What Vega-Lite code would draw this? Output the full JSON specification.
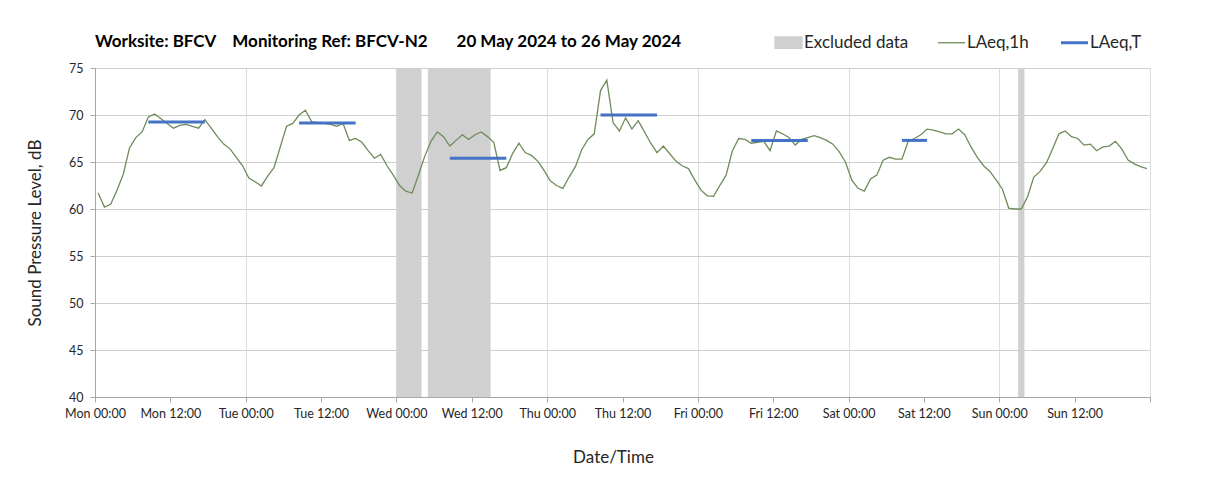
{
  "$schema": "https://vega.github.io/schema/vega-lite/v6.json",
  "width": 1055,
  "height": 329,
  "autosize": {"type": "none"},
  "padding": {"left": 95, "top": 68, "right": 58, "bottom": 93},
  "background": "white",
  "title": {
    "text": "Worksite: BFCV\u00a0\u00a0\u00a0 Monitoring Ref: BFCV-N2\u00a0\u00a0\u00a0\u00a0\u00a0\u00a0 20 May 2024 to 26 May 2024",
    "anchor": "start",
    "frame": "group",
    "offset": -17,
    "font": "Lato",
    "fontSize": 17,
    "fontWeight": "bold",
    "color": "#000000"
  },
  "config": {
    "font": "Lato",
    "view": {"stroke": "#bfbfbf"},
    "axis": {
      "labelFont": "Lato",
      "labelFontSize": 12.5,
      "labelColor": "#262626",
      "titleFont": "Lato",
      "titleFontSize": 17,
      "titleFontWeight": "normal",
      "titleColor": "#262626",
      "domainColor": "#a6a6a6",
      "tickColor": "#a6a6a6",
      "gridColor": "#d4d4d4",
      "tickSize": 5
    }
  },
  "datasets": {
    "excluded": [
      {"start": "2024-05-22T00:00", "end": "2024-05-22T04:00"},
      {"start": "2024-05-22T05:00", "end": "2024-05-22T15:00"},
      {"start": "2024-05-26T03:00", "end": "2024-05-26T04:00"}
    ],
    "period": [
      {"start": "2024-05-20T08:30", "end": "2024-05-20T17:30", "v": 69.25},
      {"start": "2024-05-21T08:30", "end": "2024-05-21T17:30", "v": 69.15},
      {"start": "2024-05-22T08:30", "end": "2024-05-22T17:30", "v": 65.4},
      {"start": "2024-05-23T08:30", "end": "2024-05-23T17:30", "v": 70.0},
      {"start": "2024-05-24T08:30", "end": "2024-05-24T17:30", "v": 67.3},
      {"start": "2024-05-25T08:30", "end": "2024-05-25T12:30", "v": 67.3}
    ],
    "hourly": [
      {"t": "2024-05-20T00:30", "v": 61.7}, {"t": "2024-05-20T01:30", "v": 60.2}, {"t": "2024-05-20T02:30", "v": 60.5}, {"t": "2024-05-20T03:30", "v": 62.0},
      {"t": "2024-05-20T04:30", "v": 63.7}, {"t": "2024-05-20T05:30", "v": 66.5}, {"t": "2024-05-20T06:30", "v": 67.6}, {"t": "2024-05-20T07:30", "v": 68.2},
      {"t": "2024-05-20T08:30", "v": 69.8}, {"t": "2024-05-20T09:30", "v": 70.1}, {"t": "2024-05-20T10:30", "v": 69.6}, {"t": "2024-05-20T11:30", "v": 69.1},
      {"t": "2024-05-20T12:30", "v": 68.6}, {"t": "2024-05-20T13:30", "v": 68.9}, {"t": "2024-05-20T14:30", "v": 69.0}, {"t": "2024-05-20T15:30", "v": 68.8},
      {"t": "2024-05-20T16:30", "v": 68.6}, {"t": "2024-05-20T17:30", "v": 69.5}, {"t": "2024-05-20T18:30", "v": 68.6}, {"t": "2024-05-20T19:30", "v": 67.7},
      {"t": "2024-05-20T20:30", "v": 66.9}, {"t": "2024-05-20T21:30", "v": 66.4}, {"t": "2024-05-20T22:30", "v": 65.5}, {"t": "2024-05-20T23:30", "v": 64.6},
      {"t": "2024-05-21T00:30", "v": 63.3}, {"t": "2024-05-21T01:30", "v": 62.9}, {"t": "2024-05-21T02:30", "v": 62.45}, {"t": "2024-05-21T03:30", "v": 63.5},
      {"t": "2024-05-21T04:30", "v": 64.4}, {"t": "2024-05-21T05:30", "v": 66.6}, {"t": "2024-05-21T06:30", "v": 68.8}, {"t": "2024-05-21T07:30", "v": 69.1},
      {"t": "2024-05-21T08:30", "v": 70.0}, {"t": "2024-05-21T09:30", "v": 70.5}, {"t": "2024-05-21T10:30", "v": 69.3}, {"t": "2024-05-21T11:30", "v": 69.2},
      {"t": "2024-05-21T12:30", "v": 69.1}, {"t": "2024-05-21T13:30", "v": 69.0}, {"t": "2024-05-21T14:30", "v": 68.8}, {"t": "2024-05-21T15:30", "v": 69.1},
      {"t": "2024-05-21T16:30", "v": 67.3}, {"t": "2024-05-21T17:30", "v": 67.5}, {"t": "2024-05-21T18:30", "v": 67.1}, {"t": "2024-05-21T19:30", "v": 66.2},
      {"t": "2024-05-21T20:30", "v": 65.4}, {"t": "2024-05-21T21:30", "v": 65.8}, {"t": "2024-05-21T22:30", "v": 64.6}, {"t": "2024-05-21T23:30", "v": 63.6},
      {"t": "2024-05-22T00:30", "v": 62.5}, {"t": "2024-05-22T01:30", "v": 61.9}, {"t": "2024-05-22T02:30", "v": 61.7}, {"t": "2024-05-22T03:30", "v": 63.6},
      {"t": "2024-05-22T04:30", "v": 65.6}, {"t": "2024-05-22T05:30", "v": 67.2}, {"t": "2024-05-22T06:30", "v": 68.2}, {"t": "2024-05-22T07:30", "v": 67.7},
      {"t": "2024-05-22T08:30", "v": 66.7}, {"t": "2024-05-22T09:30", "v": 67.3}, {"t": "2024-05-22T10:30", "v": 67.9}, {"t": "2024-05-22T11:30", "v": 67.4},
      {"t": "2024-05-22T12:30", "v": 67.9}, {"t": "2024-05-22T13:30", "v": 68.2}, {"t": "2024-05-22T14:30", "v": 67.7}, {"t": "2024-05-22T15:30", "v": 67.1},
      {"t": "2024-05-22T16:30", "v": 64.1}, {"t": "2024-05-22T17:30", "v": 64.4}, {"t": "2024-05-22T18:30", "v": 65.9}, {"t": "2024-05-22T19:30", "v": 67.0},
      {"t": "2024-05-22T20:30", "v": 66.0}, {"t": "2024-05-22T21:30", "v": 65.7}, {"t": "2024-05-22T22:30", "v": 65.1}, {"t": "2024-05-22T23:30", "v": 64.1},
      {"t": "2024-05-23T00:30", "v": 63.0}, {"t": "2024-05-23T01:30", "v": 62.5}, {"t": "2024-05-23T02:30", "v": 62.2}, {"t": "2024-05-23T03:30", "v": 63.4},
      {"t": "2024-05-23T04:30", "v": 64.5}, {"t": "2024-05-23T05:30", "v": 66.3}, {"t": "2024-05-23T06:30", "v": 67.4}, {"t": "2024-05-23T07:30", "v": 68.0},
      {"t": "2024-05-23T08:30", "v": 72.6}, {"t": "2024-05-23T09:30", "v": 73.7}, {"t": "2024-05-23T10:30", "v": 69.2}, {"t": "2024-05-23T11:30", "v": 68.3},
      {"t": "2024-05-23T12:30", "v": 69.7}, {"t": "2024-05-23T13:30", "v": 68.5}, {"t": "2024-05-23T14:30", "v": 69.4}, {"t": "2024-05-23T15:30", "v": 68.2},
      {"t": "2024-05-23T16:30", "v": 67.0}, {"t": "2024-05-23T17:30", "v": 66.0}, {"t": "2024-05-23T18:30", "v": 66.7}, {"t": "2024-05-23T19:30", "v": 65.9},
      {"t": "2024-05-23T20:30", "v": 65.1}, {"t": "2024-05-23T21:30", "v": 64.6}, {"t": "2024-05-23T22:30", "v": 64.3}, {"t": "2024-05-23T23:30", "v": 63.1},
      {"t": "2024-05-24T00:30", "v": 62.0}, {"t": "2024-05-24T01:30", "v": 61.4}, {"t": "2024-05-24T02:30", "v": 61.35}, {"t": "2024-05-24T03:30", "v": 62.5},
      {"t": "2024-05-24T04:30", "v": 63.6}, {"t": "2024-05-24T05:30", "v": 66.2}, {"t": "2024-05-24T06:30", "v": 67.5}, {"t": "2024-05-24T07:30", "v": 67.4},
      {"t": "2024-05-24T08:30", "v": 67.0}, {"t": "2024-05-24T09:30", "v": 67.1}, {"t": "2024-05-24T10:30", "v": 67.2}, {"t": "2024-05-24T11:30", "v": 66.2},
      {"t": "2024-05-24T12:30", "v": 68.3}, {"t": "2024-05-24T13:30", "v": 68.0}, {"t": "2024-05-24T14:30", "v": 67.6}, {"t": "2024-05-24T15:30", "v": 66.8},
      {"t": "2024-05-24T16:30", "v": 67.4}, {"t": "2024-05-24T17:30", "v": 67.6}, {"t": "2024-05-24T18:30", "v": 67.8}, {"t": "2024-05-24T19:30", "v": 67.6},
      {"t": "2024-05-24T20:30", "v": 67.3}, {"t": "2024-05-24T21:30", "v": 66.9}, {"t": "2024-05-24T22:30", "v": 66.1}, {"t": "2024-05-24T23:30", "v": 65.0},
      {"t": "2024-05-25T00:30", "v": 63.1}, {"t": "2024-05-25T01:30", "v": 62.2}, {"t": "2024-05-25T02:30", "v": 61.9}, {"t": "2024-05-25T03:30", "v": 63.2},
      {"t": "2024-05-25T04:30", "v": 63.6}, {"t": "2024-05-25T05:30", "v": 65.2}, {"t": "2024-05-25T06:30", "v": 65.5}, {"t": "2024-05-25T07:30", "v": 65.3},
      {"t": "2024-05-25T08:30", "v": 65.3}, {"t": "2024-05-25T09:30", "v": 67.2}, {"t": "2024-05-25T10:30", "v": 67.5}, {"t": "2024-05-25T11:30", "v": 67.9},
      {"t": "2024-05-25T12:30", "v": 68.5}, {"t": "2024-05-25T13:30", "v": 68.4}, {"t": "2024-05-25T14:30", "v": 68.2}, {"t": "2024-05-25T15:30", "v": 68.0},
      {"t": "2024-05-25T16:30", "v": 68.0}, {"t": "2024-05-25T17:30", "v": 68.5}, {"t": "2024-05-25T18:30", "v": 67.9}, {"t": "2024-05-25T19:30", "v": 66.6},
      {"t": "2024-05-25T20:30", "v": 65.5}, {"t": "2024-05-25T21:30", "v": 64.6}, {"t": "2024-05-25T22:30", "v": 64.0}, {"t": "2024-05-25T23:30", "v": 63.1},
      {"t": "2024-05-26T00:30", "v": 62.1}, {"t": "2024-05-26T01:30", "v": 60.1}, {"t": "2024-05-26T02:30", "v": 60.0}, {"t": "2024-05-26T03:30", "v": 60.0},
      {"t": "2024-05-26T04:30", "v": 61.3}, {"t": "2024-05-26T05:30", "v": 63.4}, {"t": "2024-05-26T06:30", "v": 64.0}, {"t": "2024-05-26T07:30", "v": 64.9},
      {"t": "2024-05-26T08:30", "v": 66.4}, {"t": "2024-05-26T09:30", "v": 68.0}, {"t": "2024-05-26T10:30", "v": 68.3}, {"t": "2024-05-26T11:30", "v": 67.7},
      {"t": "2024-05-26T12:30", "v": 67.5}, {"t": "2024-05-26T13:30", "v": 66.8}, {"t": "2024-05-26T14:30", "v": 66.9}, {"t": "2024-05-26T15:30", "v": 66.2},
      {"t": "2024-05-26T16:30", "v": 66.6}, {"t": "2024-05-26T17:30", "v": 66.7}, {"t": "2024-05-26T18:30", "v": 67.2}, {"t": "2024-05-26T19:30", "v": 66.4},
      {"t": "2024-05-26T20:30", "v": 65.2}, {"t": "2024-05-26T21:30", "v": 64.8}, {"t": "2024-05-26T22:30", "v": 64.5}, {"t": "2024-05-26T23:30", "v": 64.3}
    ]
  },
  "layer": [
    {
      "data": {"name": "excluded"},
      "mark": {"type": "rect"},
      "encoding": {
        "x": {
          "field": "start",
          "type": "temporal",
          "title": "Date/Time",
          "scale": {"domain": [1716163200000, 1716768000000]},
          "axis": {
            "tickCount": 14,
            "format": "%a %H:%M",
            "labelExpr": "datum.value >= 1716768000000 ? '' : timeFormat(datum.value, '%a %H:%M')",
            "labelFlush": false,
            "labelOverlap": false,
            "labelPadding": 5,
            "gridColor": "#dedede",
            "gridOpacity": {"condition": {"test": "hours(datum.value) === 12", "value": 0}, "value": 1},
            "titleX": 518,
            "titleY": 60,
            "titleBaseline": "middle"
          }
        },
        "x2": {"field": "end"},
        "color": {
          "datum": "Excluded data",
          "type": "nominal",
          "scale": {"domain": ["Excluded data", "LAeq,1h", "LAeq,T"], "range": ["#d0d0d0", "#6e8c5a", "#4472c4"]},
          "legend": {
            "orient": "none",
            "legendX": 685,
            "legendY": -34,
            "direction": "horizontal",
            "title": null,
            "labelFont": "Lato",
            "labelFontSize": 17,
            "labelColor": "#262626",
            "symbolSize": 729,
            "columnPadding": 26,
            "labelOffset": 7,
            "encode": {
              "symbols": {
                "update": {
                  "shape": {"signal": "datum.value === 'Excluded data' ? 'M-1,-0.42H1V0.42H-1Z' : 'stroke'"},
                  "fill": {"signal": "datum.value === 'Excluded data' ? '#d0d0d0' : 'transparent'"},
                  "stroke": {"signal": "datum.value === 'Excluded data' ? 'transparent' : (datum.value === 'LAeq,T' ? '#4472c4' : '#6e8c5a')"},
                  "strokeWidth": {"signal": "datum.value === 'LAeq,T' ? 3 : 1.3"},
                  "opacity": {"value": 1}
                }
              }
            }
          }
        }
      }
    },
    {
      "data": {"name": "hourly"},
      "mark": {"type": "line", "strokeWidth": 1.3},
      "encoding": {
        "x": {"field": "t", "type": "temporal", "title": "Date/Time"},
        "y": {
          "field": "v",
          "type": "quantitative",
          "title": "Sound Pressure Level, dB",
          "scale": {"domain": [40, 75], "nice": false, "zero": false},
          "axis": {
            "values": [40, 45, 50, 55, 60, 65, 70, 75],
            "labelPadding": 7,
            "gridColor": "#cfcfcf",
            "titleX": -59.5,
            "titleY": 164.5,
            "titleBaseline": "middle"
          }
        },
        "color": {"datum": "LAeq,1h", "type": "nominal"}
      }
    },
    {
      "data": {"name": "period"},
      "mark": {"type": "rule", "strokeWidth": 3},
      "encoding": {
        "x": {"field": "start", "type": "temporal", "title": "Date/Time"},
        "x2": {"field": "end"},
        "y": {"field": "v", "type": "quantitative", "title": "Sound Pressure Level, dB"},
        "color": {"datum": "LAeq,T", "type": "nominal"}
      }
    }
  ]
}
